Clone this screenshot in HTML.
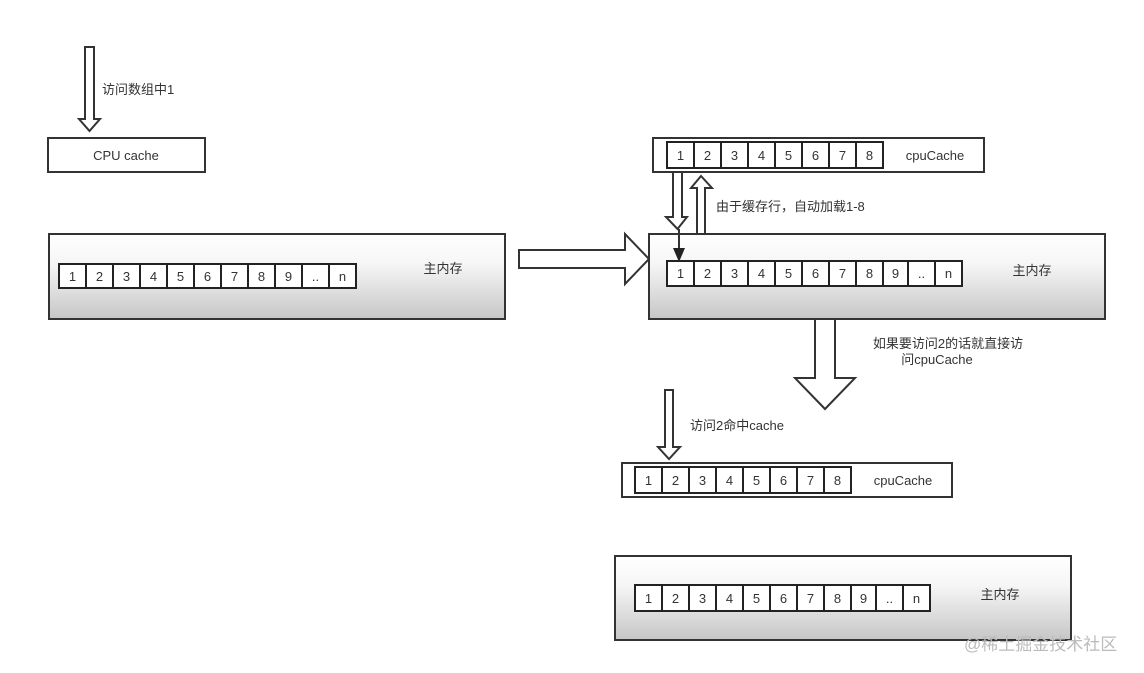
<!DOCTYPE html>
<html><head><meta charset="utf-8"><style>
html,body{margin:0;padding:0;background:#fff;}
svg{display:block;}
text{font-family:"Liberation Sans","Noto Sans CJK SC",sans-serif;font-size:13px;fill:#333;}
</style></head><body>
<svg width="1144" height="673" viewBox="0 0 1144 673" xmlns="http://www.w3.org/2000/svg">
<defs>
<linearGradient id="g" x1="0" y1="0" x2="0" y2="1">
<stop offset="0" stop-color="#ffffff"/><stop offset="0.35" stop-color="#f6f6f6"/><stop offset="1" stop-color="#c6c6c6"/>
</linearGradient>
</defs>
<g stroke="#333" stroke-width="2" fill="none">
<!-- arrow 1 -->
<polygon points="85,47 94,47 94,119 100,119 89.5,131 79,119 85,119" fill="#fff"/>
<rect x="48" y="138" width="157" height="34" fill="#fff"/>
<!-- mem1 -->
<rect x="49" y="234" width="456" height="85" fill="url(#g)"/>
<!-- big right arrow -->
<polygon points="519,250 625,250 625,234 649,259 625,284 625,268 519,268" fill="#fff"/>
<!-- cache top -->
<rect x="653" y="138" width="331" height="34" fill="#fff"/>
<!-- mem2 -->
<rect x="649" y="234" width="456" height="85" fill="url(#g)"/>
<!-- down small arrow -->
<polygon points="673,172 682,172 682,217 687,217 677.5,229 666,217 673,217" fill="#fff"/>
<!-- up small arrow -->
<polygon points="697,234 705,234 705,188 712,188 701,176 691,188 697,188" fill="#fff"/>
<line x1="679" y1="229" x2="679" y2="250"/>
<!-- big down arrow -->
<polygon points="815,319 835,319 835,378 855,378 825,409 795,378 815,378" fill="#fff"/>
<!-- arrow 访问2 -->
<polygon points="665,390 673,390 673,447 680,447 669,459 658,447 665,447" fill="#fff"/>
<!-- cache 3 -->
<rect x="622" y="463" width="330" height="34" fill="#fff"/>
<!-- mem3 -->
<rect x="615" y="556" width="456" height="84" fill="url(#g)"/>
</g>
<polygon points="673,248 685,248 679,262" fill="#222"/>
<g id="cells" stroke="#222" stroke-width="2" fill="#fff">
<!-- mem1 -->
<rect x="59" y="264" width="297" height="24"/>
<!-- mem2 -->
<rect x="667" y="261" width="295" height="25"/>
<!-- cache top -->
<rect x="667" y="142" width="216" height="26"/>
<!-- cache3 -->
<rect x="635" y="467" width="216" height="26"/>
<!-- mem3 -->
<rect x="635" y="585" width="295" height="26"/>
</g>
<g stroke="#222" stroke-width="2">
<path d="M86,264v24M113,264v24M140,264v24M167,264v24M194,264v24M221,264v24M248,264v24M275,264v24M302,264v24M329,264v24"/>
<path d="M694,261v25M721,261v25M748,261v25M775,261v25M802,261v25M829,261v25M856,261v25M883,261v25M908,261v25M935,261v25"/>
<path d="M694,142v26M721,142v26M748,142v26M775,142v26M802,142v26M829,142v26M856,142v26"/>
<path d="M662,467v26M689,467v26M716,467v26M743,467v26M770,467v26M797,467v26M824,467v26"/>
<path d="M662,585v26M689,585v26M716,585v26M743,585v26M770,585v26M797,585v26M824,585v26M851,585v26M876,585v26M903,585v26"/>
</g>
<g text-anchor="middle">
<text x="72.5" y="281">1</text><text x="99.5" y="281">2</text><text x="126.5" y="281">3</text><text x="153.5" y="281">4</text><text x="180.5" y="281">5</text><text x="207.5" y="281">6</text><text x="234.5" y="281">7</text><text x="261.5" y="281">8</text><text x="288.5" y="281">9</text><text x="315.5" y="281" font-size="9">..</text><text x="342.5" y="281">n</text>
<text x="680.5" y="278">1</text><text x="707.5" y="278">2</text><text x="734.5" y="278">3</text><text x="761.5" y="278">4</text><text x="788.5" y="278">5</text><text x="815.5" y="278">6</text><text x="842.5" y="278">7</text><text x="869.5" y="278">8</text><text x="895.5" y="278">9</text><text x="921.5" y="278" font-size="9">..</text><text x="948.5" y="278">n</text>
<text x="680.5" y="160">1</text><text x="707.5" y="160">2</text><text x="734.5" y="160">3</text><text x="761.5" y="160">4</text><text x="788.5" y="160">5</text><text x="815.5" y="160">6</text><text x="842.5" y="160">7</text><text x="869.5" y="160">8</text>
<text x="648.5" y="485">1</text><text x="675.5" y="485">2</text><text x="702.5" y="485">3</text><text x="729.5" y="485">4</text><text x="756.5" y="485">5</text><text x="783.5" y="485">6</text><text x="810.5" y="485">7</text><text x="837.5" y="485">8</text>
<text x="648.5" y="603">1</text><text x="675.5" y="603">2</text><text x="702.5" y="603">3</text><text x="729.5" y="603">4</text><text x="756.5" y="603">5</text><text x="783.5" y="603">6</text><text x="810.5" y="603">7</text><text x="837.5" y="603">8</text><text x="863.5" y="603">9</text><text x="889.5" y="603" font-size="9">..</text><text x="916.5" y="603">n</text>
<text x="126" y="160">CPU cache</text>
<text x="935" y="160">cpuCache</text>
<text x="903" y="485">cpuCache</text>
<text x="443" y="273">主内存</text>
<text x="1032" y="275">主内存</text>
<text x="1000" y="599">主内存</text>
<text x="948" y="348">如果要访问2的话就直接访</text>
<text x="937" y="364">问cpuCache</text>
</g>
<text x="102" y="94">访问数组中1</text>
<text x="716" y="211">由于缓存行，自动加载1-8</text>
<text x="690" y="430">访问2命中cache</text>
<text x="964" y="650" style="font-size:17px;fill:#bbb">@稀土掘金技术社区</text>
</svg>
</body></html>
